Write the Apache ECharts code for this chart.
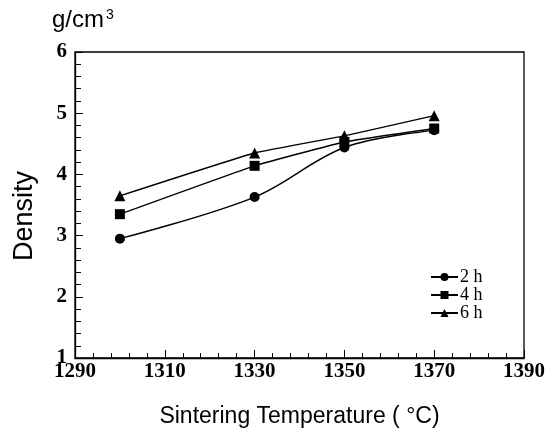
<!DOCTYPE html>
<html><head><meta charset="utf-8">
<script src="https://cdn.jsdelivr.net/npm/echarts@6/dist/echarts.min.js"></script>
<style>html,body{margin:0;padding:0;background:#fff}#c{width:552px;height:433px}</style>
</head><body><div id="c"></div>
<script>
const temps = [1300, 1330, 1350, 1370];
const d2h = [2.95, 3.63, 4.44, 4.72];
const d4h = [3.35, 4.14, 4.53, 4.75];
const d6h = [3.65, 4.35, 4.63, 4.96];
const seriesNames = ['2 h', '4 h', '6 h'];
const xTitle = 'Sintering Temperature ( °C)';
const yTitle = 'Density';
const unit = 'g/cm';

const chart = echarts.init(document.getElementById('c'), null, {renderer: 'canvas'});
function pts(arr){ return temps.map((t,i)=>[t, arr[i]]); }
const mk = (name, data, symbol, size, smooth) => ({
  name, type: 'line', data: pts(data), symbol, symbolSize: size, smooth,
  lineStyle: {color: '#000', width: 1.4}, itemStyle: {color: '#000'}, showSymbol: true
});
chart.setOption({
  animation: false,
  backgroundColor: '#fff',
  grid: {left: 75, right: 28, top: 52, bottom: 72, show: true, borderColor: '#000', borderWidth: 1.3, backgroundColor: 'transparent'},
  xAxis: {
    type: 'value', min: 1290, max: 1390, interval: 20,
    axisLine: {lineStyle: {color: '#000', width: 1.3}},
    axisTick: {inside: true, length: 8, lineStyle: {color: '#000'}},
    minorTick: {show: true, splitNumber: 5, length: 5, lineStyle: {color: '#000'}},
    splitLine: {show: false},
    axisLabel: {color: '#000', fontFamily: 'Liberation Serif', fontWeight: 'bold', fontSize: 21, margin: 3,
      formatter: v => String(v)},
    name: xTitle, nameLocation: 'middle', nameGap: 47,
    nameTextStyle: {color: '#000', fontFamily: 'Liberation Sans', fontSize: 23}
  },
  yAxis: {
    type: 'value', min: 1, max: 6, interval: 1,
    axisLine: {lineStyle: {color: '#000', width: 1.3}},
    axisTick: {inside: true, length: 8, lineStyle: {color: '#000'}},
    minorTick: {show: true, splitNumber: 5, length: 6, lineStyle: {color: '#000'}},
    splitLine: {show: false},
    axisLabel: {color: '#000', fontFamily: 'Liberation Serif', fontWeight: 'bold', fontSize: 21, margin: 8}
  },
  legend: {
    orient: 'vertical', left: 425, top: 263, itemGap: 0, itemWidth: 27, itemHeight: 10,
    data: seriesNames,
    textStyle: {color: '#000', fontFamily: 'Liberation Serif', fontSize: 18, padding: [0,0,0,-3]}
  },
  graphic: [{
    type: 'text', left: 52, top: 8,
    style: {
      text: '{a|' + unit + '}{s|3}',
      rich: {
        a: {fontFamily: 'Liberation Sans', fontSize: 24, fill: '#000', verticalAlign: 'bottom'},
        s: {fontFamily: 'Liberation Sans', fontSize: 14, fill: '#000', verticalAlign: 'top', padding: [0,0,10,2]}
      }
    }
  }, {
    type: 'text', x: 25, y: 216, rotation: Math.PI / 2,
    style: {text: yTitle, fontFamily: 'Liberation Sans', fontSize: 27, fill: '#000', align: 'center', verticalAlign: 'middle'}
  }],
  series: [
    mk(seriesNames[0], d2h, 'circle', 10, 0.35),
    mk(seriesNames[1], d4h, 'rect', 10, 0.1),
    mk(seriesNames[2], d6h, 'triangle', 11, 0.1)
  ]
});
</script></body></html>
